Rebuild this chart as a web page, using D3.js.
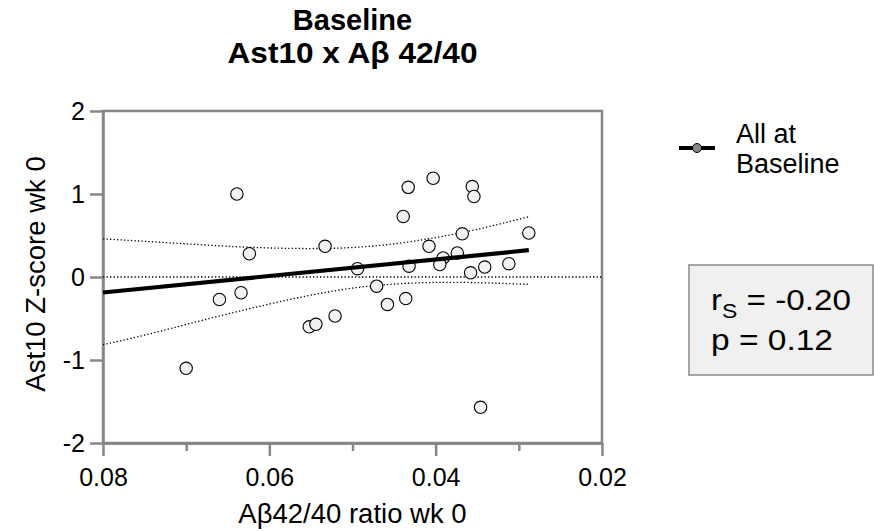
<!DOCTYPE html>
<html><head><meta charset="utf-8">
<script src="https://cdn.jsdelivr.net/npm/d3@7"></script>
<style>body{margin:0;background:#fff}svg{display:block}text{font-family:"Liberation Sans",Arial,sans-serif}</style>
</head><body><svg id="c" width="874" height="531"></svg>
<script>
const titleLines = ["Baseline", "Ast10 x A\u03b2 42/40"];
const xLabel = "A\u03b242/40 ratio wk 0";
const yLabel = "Ast10 Z-score wk 0";
const legendLines = ["All at", "Baseline"];
const xTicks = [0.08, 0.06, 0.04, 0.02];
const xMinorTicks = [0.07, 0.05, 0.03];
const yTicks = [-2, -1, 0, 1, 2];
const xVals = [0.0639,0.0533,0.0624,0.0634,0.0660,0.0521,0.0552,0.0544,0.0700,0.0494,0.0433,0.0403,0.0356,0.0354,0.0439,0.0368,0.0288,0.0408,0.0374,0.0391,0.0432,0.0395,0.0341,0.0312,0.0358,0.0471,0.0436,0.0458,0.0346];
const yVals = [1.00,0.37,0.28,-0.19,-0.27,-0.47,-0.60,-0.57,-1.10,0.10,1.08,1.19,1.09,0.97,0.73,0.52,0.53,0.37,0.29,0.23,0.13,0.15,0.12,0.16,0.05,-0.11,-0.26,-0.33,-1.57];
const fitX = [0.08, 0.0288];
const fitY = [-0.187, 0.323];
const bandX = [0.08,0.075,0.07,0.065,0.06,0.055,0.05,0.045,0.04,0.035,0.0288];
const bandUpper = [0.46,0.43,0.40,0.37,0.35,0.343,0.355,0.40,0.475,0.575,0.725];
const bandLower = [-0.815,-0.70,-0.572,-0.445,-0.326,-0.219,-0.134,-0.085,-0.065,-0.068,-0.088];
const statR = "-0.20", statP = "0.12";

const svg = d3.select("#c");
const L = 103, R = 602, T = 111, B = 443;
const x = d3.scaleLinear().domain([0.08, 0.02]).range([L, R]);
const y = d3.scaleLinear().domain([-2, 2]).range([B, T]);
const grey = "#878787";

// title
svg.append("text").attr("x", (L + R) / 2).attr("y", 30).attr("text-anchor", "middle")
  .attr("font-weight", "bold").attr("font-size", 29).text(titleLines[0]);
svg.append("text").attr("x", (L + R) / 2).attr("y", 63).attr("text-anchor", "middle")
  .attr("font-weight", "bold").attr("font-size", 29.5).attr("textLength", 250).attr("lengthAdjust", "spacingAndGlyphs").text(titleLines[1]);

// frame
svg.append("rect").attr("x", L).attr("y", T).attr("width", R - L).attr("height", B - T)
  .attr("fill", "none").attr("stroke", grey).attr("stroke-width", 2.5);

// axes
const xAxis = svg.append("g").attr("transform", `translate(0,${B})`)
  .call(d3.axisBottom(x).tickValues(xTicks).tickFormat(d3.format(".2f")).tickSize(13).tickSizeOuter(0).tickPadding(12));
const xMinor = svg.append("g").attr("transform", `translate(0,${B})`)
  .call(d3.axisBottom(x).tickValues(xMinorTicks).tickFormat("").tickSize(8).tickSizeOuter(0));
const yAxis = svg.append("g").attr("transform", `translate(${L},0)`)
  .call(d3.axisLeft(y).tickValues(yTicks).tickFormat(d3.format("d")).tickSize(13).tickSizeOuter(0).tickPadding(5));
[xAxis, xMinor, yAxis].forEach(g => {
  g.select(".domain").attr("stroke", grey).attr("stroke-width", 2.5);
  g.selectAll(".tick line").attr("stroke", grey).attr("stroke-width", 2.5);
  g.selectAll(".tick text").attr("font-size", 25).attr("fill", "#000").attr("font-family", '"Liberation Sans",Arial,sans-serif');
});
yAxis.selectAll(".tick text").text(d => d < 0 ? "-" + Math.abs(d) : d);

// axis labels
svg.append("text").attr("x", (L + R) / 2).attr("y", 523).attr("text-anchor", "middle").attr("font-size", 27.5).text(xLabel);
svg.append("text").attr("transform", `translate(45,274) rotate(-90)`).attr("text-anchor", "middle").attr("font-size", 27.5).text(yLabel);

// zero line
const dots = "1.3,2.2";
svg.append("line").attr("x1", L).attr("x2", R).attr("y1", y(0)).attr("y2", y(0))
  .attr("stroke", "#000").attr("stroke-width", 1.3).attr("stroke-dasharray", dots);

// confidence bands
const bandLine = vals => d3.line().x((d, i) => x(bandX[i])).y((d, i) => y(vals[i])).curve(d3.curveNatural)(vals);
[bandUpper, bandLower].forEach(v => svg.append("path").attr("d", bandLine(v)).attr("fill", "none")
  .attr("stroke", "#000").attr("stroke-width", 1.3).attr("stroke-dasharray", dots));

// points
svg.append("g").selectAll("circle").data(xVals).join("circle")
  .attr("cx", d => x(d)).attr("cy", (d, i) => y(yVals[i])).attr("r", 6.2)
  .attr("fill", "#f2f2f2").attr("stroke", "#000").attr("stroke-width", 1.1);

// fit line
svg.append("line").attr("x1", x(fitX[0])).attr("x2", x(fitX[1])).attr("y1", y(fitY[0])).attr("y2", y(fitY[1]))
  .attr("stroke", "#000").attr("stroke-width", 4.2);

// legend
svg.append("line").attr("x1", 679).attr("x2", 715).attr("y1", 148).attr("y2", 148).attr("stroke", "#000").attr("stroke-width", 4);
svg.append("circle").attr("cx", 697).attr("cy", 148).attr("r", 4.5).attr("fill", "#888").attr("stroke", "#000").attr("stroke-width", 1);
svg.append("g").selectAll("text").data(legendLines).join("text")
  .attr("x", 736).attr("y", (d, i) => 143 + i * 30).attr("font-size", 27).text(d => d);

// stats box
svg.append("rect").attr("x", 689).attr("y", 265).attr("width", 184).attr("height", 110)
  .attr("fill", "#f0f0f0").attr("stroke", "#8a8a8a").attr("stroke-width", 1.5);
const t1 = svg.append("text").attr("x", 711).attr("y", 310).attr("font-size", 29)
  .attr("textLength", 140).attr("lengthAdjust", "spacingAndGlyphs");
t1.append("tspan").text("r");
t1.append("tspan").attr("font-size", 20).attr("dy", 8).text("S");
t1.append("tspan").attr("dy", -8).text(" = " + statR);
svg.append("text").attr("x", 711).attr("y", 350).attr("font-size", 29)
  .attr("textLength", 122).attr("lengthAdjust", "spacingAndGlyphs").text("p = " + statP);
</script></body></html>
